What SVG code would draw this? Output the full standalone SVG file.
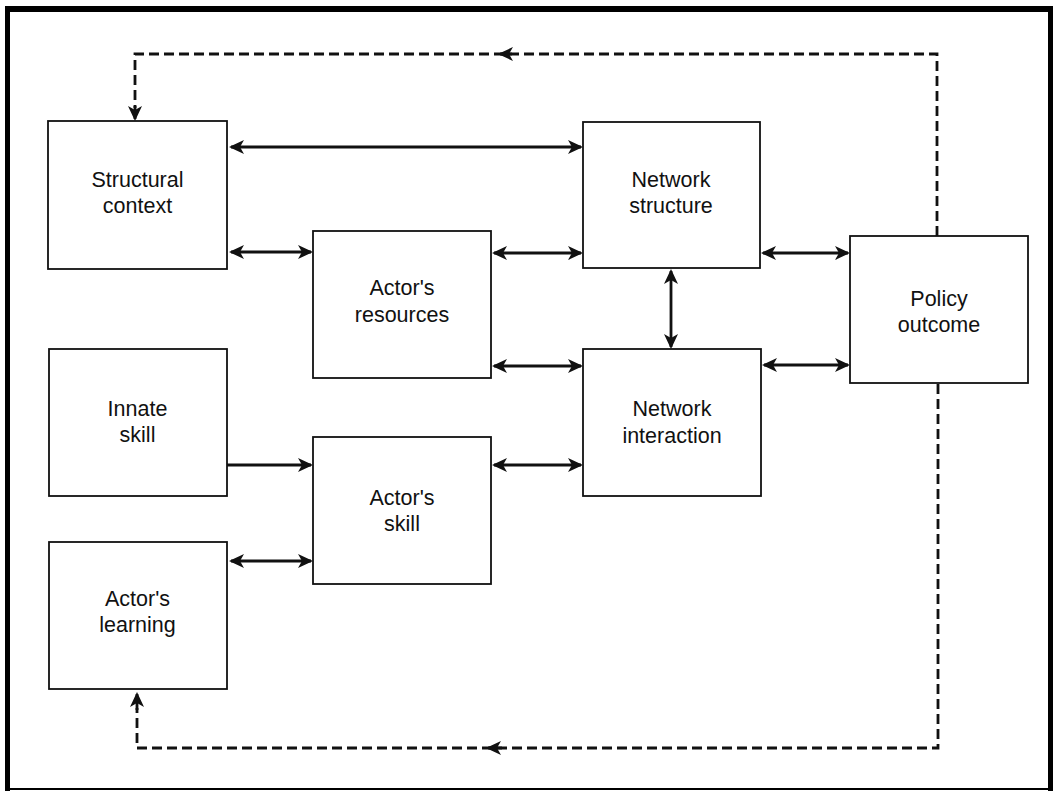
<svg xmlns="http://www.w3.org/2000/svg" width="1053" height="791" viewBox="0 0 1053 791">
<defs>
<style>
.box{fill:#fff;stroke:#111;stroke-width:1.8}
.lbl{font-family:"Liberation Sans",Arial,Helvetica,sans-serif;font-size:21.5px;fill:#111;text-anchor:middle}
.con{fill:none;stroke:#111;stroke-width:2.8}
.dash{fill:none;stroke:#111;stroke-width:2.8;stroke-dasharray:10 5}
.frame{stroke:#000;fill:none}
</style>
<marker id="ah" viewBox="-15 -8 18 16" markerWidth="18" markerHeight="16" refX="0" refY="0" markerUnits="userSpaceOnUse" orient="auto-start-reverse">
<path d="M2,0 L-13,-7 L-9,0 L-13,7 Z" fill="#111"/>
</marker>
</defs>
<rect width="1053" height="791" fill="#fff"/>
<g id="frame">
<line class="frame" x1="7.5" y1="6" x2="7.5" y2="791" stroke-width="5"/>
<line class="frame" x1="5" y1="9" x2="1053" y2="9" stroke-width="6"/>
<line class="frame" x1="1050.5" y1="6" x2="1050.5" y2="791" stroke-width="5"/>
<line class="frame" x1="5" y1="789" x2="1053" y2="789" stroke-width="2.2"/>
</g>
<g id="connectors">
<line class="con" x1="231" y1="147" x2="581" y2="147" marker-start="url(#ah)" marker-end="url(#ah)"/>
<line class="con" x1="231" y1="252" x2="311" y2="252" marker-start="url(#ah)" marker-end="url(#ah)"/>
<line class="con" x1="494" y1="253" x2="581" y2="253" marker-start="url(#ah)" marker-end="url(#ah)"/>
<line class="con" x1="494" y1="366" x2="581" y2="366" marker-start="url(#ah)" marker-end="url(#ah)"/>
<line class="con" x1="671" y1="271" x2="671" y2="347" marker-start="url(#ah)" marker-end="url(#ah)"/>
<line class="con" x1="763" y1="253" x2="848" y2="253" marker-start="url(#ah)" marker-end="url(#ah)"/>
<line class="con" x1="764" y1="365" x2="848" y2="365" marker-start="url(#ah)" marker-end="url(#ah)"/>
<line class="con" x1="227" y1="465" x2="311" y2="465" marker-end="url(#ah)"/>
<line class="con" x1="231" y1="561" x2="311" y2="561" marker-start="url(#ah)" marker-end="url(#ah)"/>
<line class="con" x1="494" y1="465" x2="581" y2="465" marker-start="url(#ah)" marker-end="url(#ah)"/>
<path class="dash" d="M937,236 L937,54 L135,54 L135,108"/>
<line class="con" x1="135" y1="106" x2="135" y2="119" marker-end="url(#ah)"/>
<line class="con" x1="512" y1="54" x2="500" y2="54" marker-end="url(#ah)"/>
<path class="dash" d="M938,384 L938,748 L137,748 L137,708"/>
<line class="con" x1="137" y1="710" x2="137" y2="694" marker-end="url(#ah)"/>
<line class="con" x1="502" y1="748" x2="488" y2="748" marker-end="url(#ah)"/>
</g>
<g id="structural-context">
<rect class="box" x="48" y="121" width="179" height="148"/>
<text class="lbl" x="137.5" y="187">Structural</text>
<text class="lbl" x="137.5" y="213">context</text>
</g>
<g id="actors-resources">
<rect class="box" x="313" y="231" width="178" height="147"/>
<text class="lbl" x="402" y="295">Actor's</text>
<text class="lbl" x="402" y="322">resources</text>
</g>
<g id="network-structure">
<rect class="box" x="583" y="122" width="177" height="146"/>
<text class="lbl" x="671" y="187">Network</text>
<text class="lbl" x="671" y="213">structure</text>
</g>
<g id="policy-outcome">
<rect class="box" x="850" y="236" width="178" height="147"/>
<text class="lbl" x="939" y="306">Policy</text>
<text class="lbl" x="939" y="332">outcome</text>
</g>
<g id="innate-skill">
<rect class="box" x="49" y="349" width="178" height="147"/>
<text class="lbl" x="137.5" y="416">Innate</text>
<text class="lbl" x="137.5" y="442">skill</text>
</g>
<g id="network-interaction">
<rect class="box" x="583" y="349" width="178" height="147"/>
<text class="lbl" x="672" y="416">Network</text>
<text class="lbl" x="672" y="443">interaction</text>
</g>
<g id="actors-skill">
<rect class="box" x="313" y="437" width="178" height="147"/>
<text class="lbl" x="402" y="505">Actor's</text>
<text class="lbl" x="402" y="531">skill</text>
</g>
<g id="actors-learning">
<rect class="box" x="49" y="542" width="178" height="147"/>
<text class="lbl" x="137.5" y="606">Actor's</text>
<text class="lbl" x="137.5" y="632">learning</text>
</g>
</svg>
